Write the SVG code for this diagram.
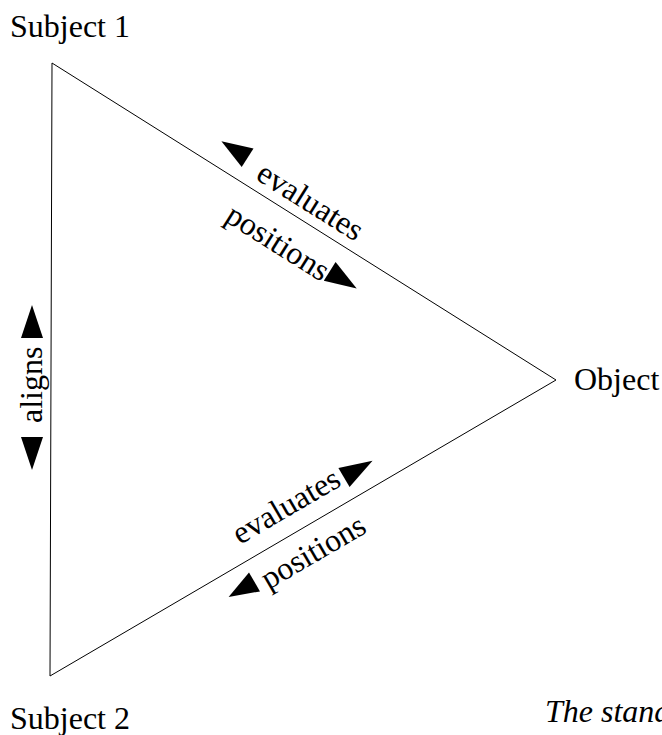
<svg xmlns="http://www.w3.org/2000/svg" width="662" height="735" viewBox="0 0 662 735">
<style>
text{font-family:"Liberation Serif","Times New Roman",serif;font-size:32px;fill:#000}
.edge{stroke:#000;stroke-width:1;fill:none}
.ah{fill:#000}
.cap{font-style:italic}
</style>
<rect width="662" height="735" fill="#fff"/>
<g id="connectors">
<line class="edge" x1="52" y1="63" x2="556" y2="380"/>
<line class="edge" x1="556" y1="380" x2="50" y2="676"/>
<line class="edge" x1="50" y1="676" x2="52" y2="63"/>
<g id="label-top">
<polygon class="ah" points="221.4,141.2 253.5,148.4 241.7,167"/>
<text transform="translate(254.5,178.6) rotate(32.17)">evaluates</text>
<text transform="translate(223.4,220.5) rotate(32.17)" font-size="33">positions</text>
<polygon class="ah" points="356.7,288.4 335.6,262.1 323.8,280.7"/>
</g>
<g id="label-bottom">
<text transform="translate(240,545) rotate(-30.33)">evaluates</text>
<polygon class="ah" points="372.5,460.7 338.4,467.9 349.6,486.9"/>
<polygon class="ah" points="228.6,597 249,572.4 260,591.4"/>
<text transform="translate(268.5,590) rotate(-30.33)">positions</text>
</g>
<g id="label-left">
<polygon class="ah" points="32,305 21,338 43,338"/>
<text transform="translate(42,423) rotate(-90)">aligns</text>
<polygon class="ah" points="21,437 43,437 32,470"/>
</g>
</g>
<g id="subject1"><text x="10" y="37">Subject 1</text></g>
<g id="object"><text x="574" y="390">Object</text></g>
<g id="subject2"><text x="10" y="729">Subject 2</text></g>
<g id="caption"><text class="cap" x="545" y="722">The stand</text></g>
</svg>
